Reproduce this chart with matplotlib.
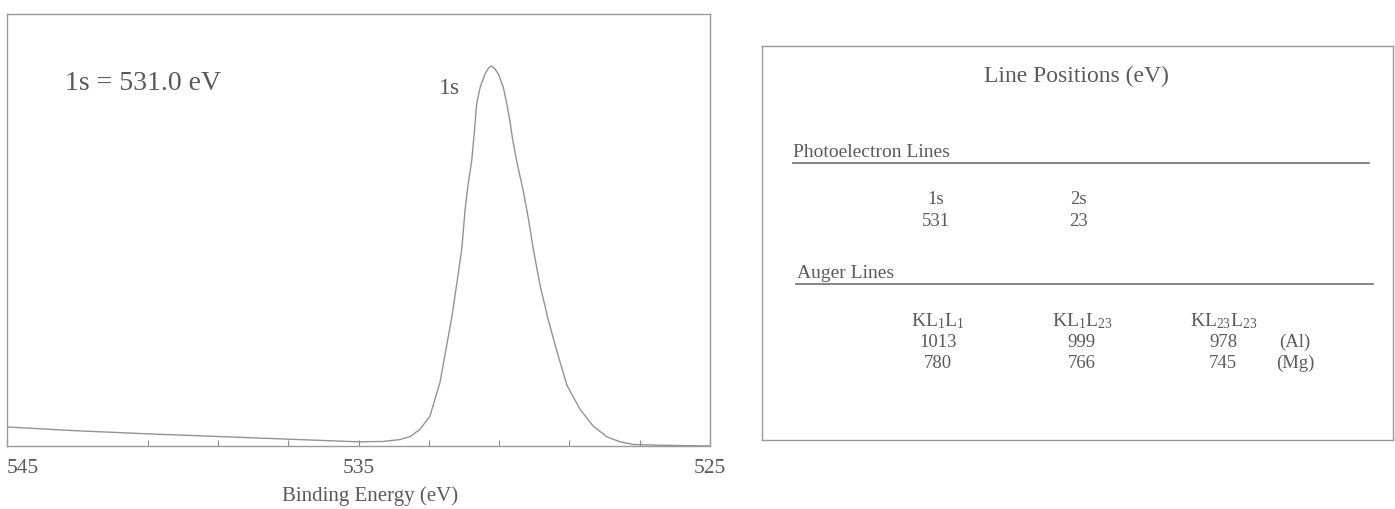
import matplotlib
matplotlib.use("Agg")
import matplotlib.pyplot as plt
from matplotlib.ticker import FixedLocator

plt.rcParams['font.family'] = ['Liberation Serif', 'DejaVu Serif']
plt.rcParams['mathtext.fontset'] = 'custom'
plt.rcParams['mathtext.rm'] = 'Liberation Serif'
plt.rcParams['mathtext.it'] = 'Liberation Serif:italic'
plt.rcParams['mathtext.default'] = 'regular'

# ---- data: O 1s spectrum ----
binding_energy = [545.0, 543.0, 541.0, 539.0, 537.0, 535.0, 534.3,
                  533.82, 533.53, 533.25, 532.97, 532.68, 532.34, 532.20,
                  532.06, 531.97, 531.88, 531.78, 531.71, 531.64, 531.54,
                  531.40, 531.30, 531.21, 531.12, 531.02, 530.88, 530.78,
                  530.69, 530.62, 530.50, 530.31, 530.17, 530.03, 529.84,
                  529.61, 529.35, 529.07, 528.70, 528.33, 527.93, 527.56,
                  527.19, 526.42, 525.0]
intensity = [0.050, 0.040, 0.032, 0.025, 0.018, 0.011, 0.012,
             0.017, 0.025, 0.044, 0.078, 0.168, 0.342, 0.430,
             0.520, 0.620, 0.690, 0.750, 0.820, 0.900, 0.944,
             0.979, 0.995, 1.000, 0.993, 0.979, 0.944, 0.900,
             0.854, 0.810, 0.750, 0.670, 0.600, 0.520, 0.425,
             0.335, 0.247, 0.160, 0.097, 0.053, 0.024, 0.011,
             0.004, 0.002, 0.000]

major_ticks = [545, 535, 525]
minor_ticks = [541, 539, 537, 533, 531, 529, 527]

peak_label = "1s"
peak_pos_text = "1s = 531.0 eV"

# ---- table data ----
table_title = "Line Positions (eV)"
photo_header = "Photoelectron Lines"
photo_lines = ["1s", "2s"]
photo_values = ["531", "23"]
auger_header = "Auger Lines"
auger_lines = [r"KL$_1$L$_1$", r"KL$_1$L$_{23}$", r"KL$_{23}$L$_{23}$"]
auger_al = ["1013", "999", "978"]
auger_mg = ["780", "766", "745"]
sources = ["(Al)", "(Mg)"]

TXT = '#5a5a5a'
LINE = '#8c8c8c'

fig = plt.figure(figsize=(13.95, 5.10), dpi=100)

# ---------------- left: spectrum ----------------
ax = fig.add_axes([7/1395, 1-447/510, 703/1395, 432/510])
ax.plot(binding_energy, intensity, color='#939393', lw=1.0)
ax.set_xlim(545, 525)
ax.set_ylim(0, 1.137)
ax.set_yticks([])
ax.xaxis.set_major_locator(FixedLocator(major_ticks))
ax.xaxis.set_minor_locator(FixedLocator(minor_ticks))
ax.set_xticklabels([str(t) for t in major_ticks])
ax.tick_params(axis='x', which='major', direction='in', length=4, width=0.8,
               color=LINE, pad=9, labelsize=15.5, labelcolor=TXT)
ax.tick_params(axis='x', which='minor', direction='in', length=4,
               width=0.8, color=LINE)
lbls = ax.get_xticklabels()
lbls[0].set_ha('left')
for s in ax.spines.values():
    s.set_color('#9a9a9a')
    s.set_linewidth(1.0)
ax.set_xlabel("Binding Energy (eV)", fontsize=15, color=TXT)
ax.xaxis.set_label_coords(0.517, -0.09)
ax.text(58/703, 1-(83-15)/432, peak_pos_text, transform=ax.transAxes,
        fontsize=20, color=TXT, ha='left', va='center')
ax.text(442/703, 1-(88-15)/432, peak_label, transform=ax.transAxes,
        fontsize=17, color=TXT, ha='center', va='center')

# ---------------- right: table ----------------
tb = fig.add_axes([762/1395, 1-441/510, 631/1395, 394/510])
tb.set_xticks([])
tb.set_yticks([])
tb.set_xlim(0, 1)
tb.set_ylim(0, 1)
for s in tb.spines.values():
    s.set_color('#9a9a9a')
    s.set_linewidth(1.0)

tb.text(0.499, 0.925, table_title, fontsize=17, color=TXT,
        ha='center', va='center')
tb.text(0.049, 0.733, photo_header, fontsize=14, color=TXT,
        ha='left', va='center')
tb.plot([0.049, 0.962], [0.703, 0.703], color='#707070', lw=1.2)

photo_x = [0.276, 0.501]
for x, name, val in zip(photo_x, photo_lines, photo_values):
    tb.text(x, 0.612, name, fontsize=13.5, color=TXT, ha='center', va='center')
    tb.text(x, 0.556, val, fontsize=13.5, color=TXT, ha='center', va='center')

tb.text(0.055, 0.424, auger_header, fontsize=14, color=TXT,
        ha='left', va='center')
tb.plot([0.054, 0.968], [0.396, 0.396], color='#707070', lw=1.2)

auger_x = [0.279, 0.507, 0.731]
for x, name, al, mg in zip(auger_x, auger_lines, auger_al, auger_mg):
    tb.text(x, 0.305, name, fontsize=14, color=TXT, ha='center', va='center')
    tb.text(x, 0.251, al, fontsize=13.5, color=TXT, ha='center', va='center')
    tb.text(x, 0.196, mg, fontsize=13.5, color=TXT, ha='center', va='center')
for y, src in zip([0.251, 0.196], sources):
    tb.text(0.845, y, src, fontsize=13.5, color=TXT, ha='center', va='center')

fig.savefig("out.png", dpi=100, facecolor='white')
